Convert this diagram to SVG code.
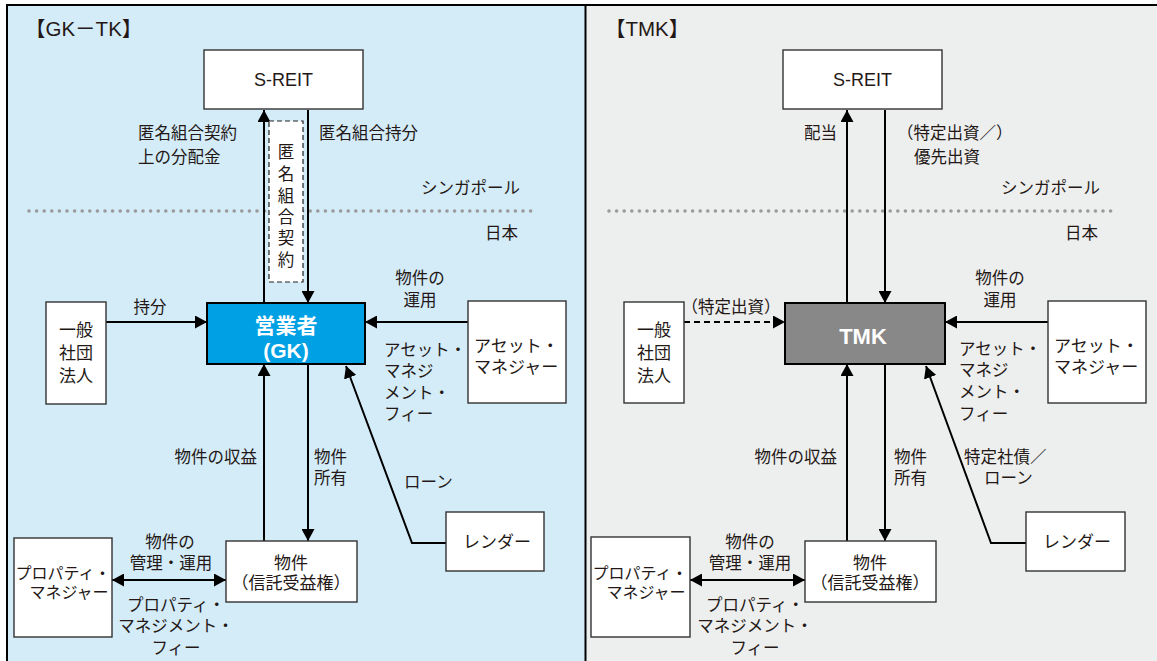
<svg xmlns="http://www.w3.org/2000/svg" width="1157" height="661" viewBox="0 0 1157 661">
<defs>
<marker id="arr" markerUnits="userSpaceOnUse" markerWidth="13" markerHeight="13" refX="12" refY="6.5" orient="auto-start-reverse" viewBox="0 0 13 13">
<path d="M0,0 L12,6.5 L0,13 z" fill="#000"/>
</marker>
<style>
text{font-family:"Liberation Sans","Noto Sans CJK JP",sans-serif;fill:#231815;dominant-baseline:central}
.lb{font-size:16.5px}
.nd{font-size:17px}
.pm{font-size:16px}
.bx{fill:#fff;stroke:#333;stroke-width:1.4}
.ln{fill:none;stroke:#000;stroke-width:2}
.ar{marker-end:url(#arr)}
.da{stroke-dasharray:6 4}
.dot{fill:none;stroke:#9a9a9a;stroke-width:3.6;stroke-linecap:round;stroke-dasharray:0 7.6}
.c{text-anchor:middle}
.e{text-anchor:end}
.w{fill:#fff;font-weight:bold}
.tt{font-size:20.5px}
</style>
</defs>
<rect x="0" y="0" width="1157" height="661" fill="#fff"/>
<g id="panels">
<rect x="7" y="5" width="579" height="660" fill="#D4EBF8"/>
<rect x="586" y="5" width="575" height="660" fill="#EDEEEE"/>
<line x1="7" y1="5" x2="7" y2="661" stroke="#000" stroke-width="2"/>
<line x1="6" y1="5" x2="1157" y2="5" stroke="#000" stroke-width="2"/>
<line x1="585.5" y1="5" x2="585.5" y2="661" stroke="#000" stroke-width="2"/>
<text class="tt" x="25" y="28">【GK－TK】</text>
<text class="tt" x="605" y="28">【TMK】</text>
<line class="dot" x1="29" y1="211" x2="533" y2="211"/>
<line class="dot" x1="609" y1="211" x2="1113" y2="211"/>
<text class="lb e" x="520" y="188">シンガポール</text>
<text class="lb e" x="518" y="233">日本</text>
<text class="lb e" x="1100" y="188">シンガポール</text>
<text class="lb e" x="1098" y="233">日本</text>
</g>
<g id="connectors">
<line class="ln ar" x1="264" y1="303" x2="264" y2="110"/>
<line class="ln ar" x1="308" y1="110" x2="308" y2="303"/>
<line class="ln ar" x1="106" y1="322" x2="207" y2="322"/>
<line class="ln ar" x1="468" y1="322" x2="365" y2="322"/>
<line class="ln ar" x1="264" y1="541" x2="264" y2="364"/>
<line class="ln ar" x1="308" y1="364" x2="308" y2="541"/>
<polyline class="ln ar" points="446,543 412,543 346,366"/>
<line class="ln ar" x1="112" y1="580" x2="226" y2="580" style="marker-start:url(#arr)"/>
<line class="ln ar" x1="847" y1="303" x2="847" y2="110"/>
<line class="ln ar" x1="885" y1="110" x2="885" y2="303"/>
<line class="ln ar da" x1="684" y1="322" x2="785" y2="322"/>
<line class="ln ar" x1="1048" y1="322" x2="945" y2="322"/>
<line class="ln ar" x1="847" y1="541" x2="847" y2="364"/>
<line class="ln ar" x1="885" y1="364" x2="885" y2="541"/>
<polyline class="ln ar" points="1026,543 991,543 926,366"/>
<line class="ln ar" x1="690" y1="580" x2="805" y2="580" style="marker-start:url(#arr)"/>
</g>
<g id="labels">
<text class="lb" x="138" y="133">匿名組合契約</text>
<text class="lb" x="138" y="157">上の分配金</text>
<text class="lb" x="319" y="133">匿名組合持分</text>
<text class="lb c" x="150" y="307">持分</text>
<text class="lb c" x="420" y="278">物件の</text>
<text class="lb c" x="420" y="300">運用</text>
<text class="lb" x="384" y="350">アセット・</text>
<text class="lb" x="384" y="371">マネジ</text>
<text class="lb" x="384" y="393">メント・</text>
<text class="lb" x="384" y="414">フィー</text>
<text class="lb e" x="257" y="457">物件の収益</text>
<text class="lb" x="314" y="457">物件</text>
<text class="lb" x="314" y="478">所有</text>
<text class="lb" x="404" y="482">ローン</text>
<text class="lb c" x="170" y="542">物件の</text>
<text class="lb c" x="171" y="563">管理・運用</text>
<text class="lb c" x="176" y="605">プロパティ・</text>
<text class="lb c" x="176" y="626">マネジメント・</text>
<text class="lb c" x="176" y="648">フィー</text>
<text class="lb e" x="837" y="133">配当</text>
<text class="lb" x="897" y="133">（特定出資／）</text>
<text class="lb" x="914" y="157">優先出資</text>
<text class="lb c" x="731" y="307">（特定出資）</text>
<text class="lb c" x="1000" y="278">物件の</text>
<text class="lb c" x="1000" y="300">運用</text>
<text class="lb" x="959" y="349">アセット・</text>
<text class="lb" x="959" y="370">マネジ</text>
<text class="lb" x="959" y="392">メント・</text>
<text class="lb" x="959" y="414">フィー</text>
<text class="lb e" x="837" y="457">物件の収益</text>
<text class="lb" x="894" y="457">物件</text>
<text class="lb" x="894" y="478">所有</text>
<text class="lb" x="964" y="457">特定社債／</text>
<text class="lb" x="984" y="478">ローン</text>
<text class="lb c" x="750" y="542">物件の</text>
<text class="lb c" x="750" y="563">管理・運用</text>
<text class="lb c" x="755" y="605">プロパティ・</text>
<text class="lb c" x="755" y="626">マネジメント・</text>
<text class="lb c" x="755" y="648">フィー</text>
</g>
<g id="tk-contract">
<rect x="269" y="121" width="34" height="161" fill="#fff" stroke="#222" stroke-width="1.2" stroke-dasharray="5 3"/>
<text class="lb c" x="286" y="152">匿</text>
<text class="lb c" x="286" y="174">名</text>
<text class="lb c" x="286" y="196">組</text>
<text class="lb c" x="286" y="217">合</text>
<text class="lb c" x="286" y="238">契</text>
<text class="lb c" x="286" y="260">約</text>
</g>
<g id="sreit-l"><rect class="bx" x="204" y="50" width="159" height="59"/><text class="c" x="283.5" y="80" style="font-size:18px">S-REIT</text></g>
<g id="ippan-l"><rect class="bx" x="46" y="302" width="60" height="102"/><text class="nd c" x="76" y="330">一般</text><text class="nd c" x="76" y="353">社団</text><text class="nd c" x="76" y="376">法人</text></g>
<g id="gk"><rect x="207" y="303" width="158" height="61" fill="#00A0E4" stroke="#000" stroke-width="2"/><text class="c w" x="286" y="325" style="font-size:21px">営業者</text><text class="c w" x="286" y="350" style="font-size:21px">(GK)</text></g>
<g id="am-l"><rect class="bx" x="468" y="301" width="98" height="102"/><text class="nd" x="474" y="346">アセット・</text><text class="nd" x="474" y="367">マネジャー</text></g>
<g id="lender-l"><rect class="bx" x="446" y="512" width="98" height="59"/><text class="nd c" x="497" y="542">レンダー</text></g>
<g id="prop-l"><rect class="bx" x="226" y="541" width="131" height="61"/><text class="nd c" x="291" y="563">物件</text><text class="nd c" x="291" y="583">（信託受益権）</text></g>
<g id="pm-l"><rect class="bx" x="14" y="538" width="98" height="99"/><text class="pm c" x="63" y="573">プロパティ・</text><text class="pm c" x="69" y="592">マネジャー</text></g>
<g id="sreit-r"><rect class="bx" x="783" y="50" width="159" height="59"/><text class="c" x="862.5" y="80" style="font-size:18px">S-REIT</text></g>
<g id="ippan-r"><rect class="bx" x="624" y="302" width="60" height="101"/><text class="nd c" x="654" y="330">一般</text><text class="nd c" x="654" y="353">社団</text><text class="nd c" x="654" y="376">法人</text></g>
<g id="tmk"><rect x="785" y="303" width="160" height="61" fill="#888888" stroke="#000" stroke-width="2"/><text class="c w" x="863" y="336" style="font-size:22px">TMK</text></g>
<g id="am-r"><rect class="bx" x="1048" y="301" width="98" height="102"/><text class="nd" x="1054" y="346">アセット・</text><text class="nd" x="1054" y="367">マネジャー</text></g>
<g id="lender-r"><rect class="bx" x="1026" y="512" width="99" height="59"/><text class="nd c" x="1077" y="542">レンダー</text></g>
<g id="prop-r"><rect class="bx" x="805" y="541" width="131" height="61"/><text class="nd c" x="870" y="563">物件</text><text class="nd c" x="870" y="583">（信託受益権）</text></g>
<g id="pm-r"><rect class="bx" x="591" y="537" width="99" height="100"/><text class="pm c" x="640" y="573">プロパティ・</text><text class="pm c" x="646" y="592">マネジャー</text></g>
</svg>
